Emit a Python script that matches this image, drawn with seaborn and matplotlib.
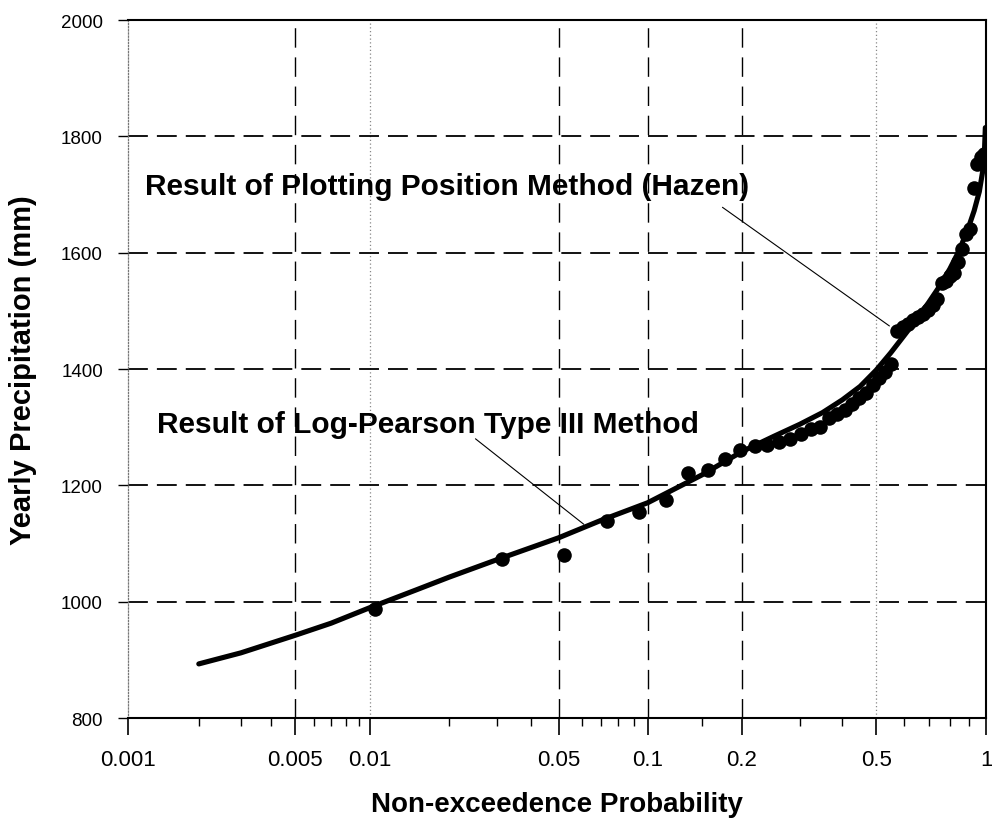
import numpy as np
import pandas as pd
import matplotlib
matplotlib.use("Agg")
import matplotlib.pyplot as plt
from matplotlib import font_manager
import seaborn as sns

# ---------------- data ----------------
prob = [0.0104, 0.0313, 0.0521, 0.0729, 0.0938, 0.1146, 0.1354, 0.1563,
        0.1771, 0.1979, 0.2188, 0.2396, 0.2604, 0.2813, 0.3021, 0.3229,
        0.3438, 0.3646, 0.3854, 0.4063, 0.4271, 0.4479, 0.4688, 0.4896,
        0.5104, 0.5313, 0.5521, 0.5729, 0.5938, 0.6146, 0.6354, 0.6563,
        0.6771, 0.6979, 0.7188, 0.7396, 0.7604, 0.7813, 0.8021, 0.8229,
        0.8438, 0.8646, 0.8854, 0.9063, 0.9271, 0.9479, 0.9688, 0.9896]
precip = [987, 1073, 1080, 1139, 1154, 1175, 1222, 1226,
          1245, 1260, 1268, 1270, 1274, 1280, 1288, 1297,
          1300, 1316, 1323, 1330, 1340, 1350, 1358, 1372,
          1385, 1395, 1408, 1465, 1472, 1478, 1484, 1490,
          1495, 1502, 1510, 1520, 1548, 1552, 1560, 1565,
          1584, 1606, 1632, 1640, 1712, 1752, 1765, 1770]

curve_p = [0.002, 0.003, 0.005, 0.007, 0.01, 0.015, 0.02, 0.03, 0.05,
           0.07, 0.1, 0.15, 0.2, 0.25, 0.3, 0.35, 0.4, 0.45, 0.5, 0.55,
           0.6, 0.65, 0.7, 0.75, 0.8, 0.85, 0.9, 0.93, 0.96, 0.98, 0.99,
           0.996]
curve_y = [893, 912, 942, 963, 990, 1020, 1042, 1072, 1110,
           1140, 1170, 1218, 1258, 1284, 1305, 1325, 1347, 1370, 1398, 1428,
           1458, 1486, 1514, 1542, 1572, 1605, 1645, 1672, 1705, 1740, 1770,
           1815]

major_ticks = [0.001, 0.005, 0.01, 0.05, 0.1, 0.2, 0.5, 1]
major_labels = ["0.001", "0.005", "0.01", "0.05", "0.1", "0.2", "0.5", "1"]
minor_ticks = [0.002, 0.003, 0.004, 0.006, 0.007, 0.008, 0.009,
               0.02, 0.03, 0.04, 0.06, 0.07, 0.08, 0.09, 0.15,
               0.3, 0.4, 0.6, 0.7, 0.8, 0.9]
y_ticks = [800, 1000, 1200, 1400, 1600, 1800, 2000]

txt_hazen = "Result of Plotting Position Method (Hazen)"
txt_lp3 = "Result of Log-Pearson Type III Method"

# ---------------- style ----------------
sns.set_theme(style="white")
plt.rcParams["font.family"] = ["Liberation Sans", "DejaVu Sans"]
plt.rcParams["text.color"] = "black"
plt.rcParams["axes.labelcolor"] = "black"
plt.rcParams["xtick.color"] = "black"
plt.rcParams["ytick.color"] = "black"


def has_font(name):
    try:
        font_manager.findfont(font_manager.FontProperties(family=name),
                              fallback_to_default=False)
        return True
    except Exception:
        return False


narrow = has_font("Liberation Sans Narrow")
xtick_family = ["Liberation Sans Narrow", "Liberation Sans"] if narrow else ["Liberation Sans"]
xtick_size = 18 if narrow else 16

# probability-paper style x scale (slightly stretched log)
_B, _C = 0.0193, 0.01858


def fwd(p):
    p = np.clip(np.asarray(p, dtype=float), 1e-30, None)
    t = np.log10(p) + 3.0
    return t + _B * t ** 2 + _C * t ** 3


_tg = np.linspace(-27, 4, 400001)
_fg = _tg + _B * _tg ** 2 + _C * _tg ** 3


def inv(v):
    v = np.asarray(v, dtype=float)
    return 10 ** (np.interp(v, _fg, _tg) - 3.0)


fig = plt.figure(figsize=(9.92, 8.20), dpi=100)
ax = fig.add_axes([128 / 992, 1 - 719 / 820, (986 - 128) / 992, (719 - 21) / 820])
ax.set_xscale("function", functions=(fwd, inv))

df_pts = pd.DataFrame({"p": prob, "y": precip})
df_crv = pd.DataFrame({"p": curve_p, "y": curve_y})

sns.lineplot(data=df_crv, x="p", y="y", sort=False, color="black",
             linewidth=3.7, ax=ax, zorder=3)
sns.scatterplot(data=df_pts, x="p", y="y", color="black", s=110,
                edgecolor="black", linewidth=0, ax=ax, zorder=4)

ax.set_xlim(0.001, 1)
ax.set_ylim(800, 2000)

ax.set_xticks(major_ticks)
ax.set_xticklabels(major_labels, family=xtick_family, fontsize=xtick_size,
                   color="black")
ax.set_xticks(minor_ticks, minor=True)
ax.set_yticks(y_ticks)
ax.set_yticklabels([str(v) for v in y_ticks], fontsize=13.5, color="black")

ax.tick_params(axis="x", which="major", direction="out", length=12,
               width=1.2, pad=10, colors="black", bottom=True)
ax.tick_params(axis="x", which="minor", direction="out", length=6,
               width=1.0, bottom=True, colors="black")
ax.tick_params(axis="y", which="major", direction="out", length=7,
               width=1.0, pad=11, left=True, colors="black")

# grid
ax.yaxis.grid(True, color="black", linewidth=1.3, linestyle=(0, (11, 5)))
ax.xaxis.grid(True, which="major", color="black", linewidth=1.0,
              linestyle=(0, (14, 7)))
for tk, val in zip(ax.xaxis.get_major_ticks(), major_ticks):
    gl = tk.gridline
    if val in (0.001, 1):
        gl.set_visible(False)
    elif val in (0.01, 0.5):
        gl.set_linestyle((0, (1, 2)))
        gl.set_color("#888888")
        gl.set_linewidth(0.9)
ax.set_axisbelow(True)

for side in ("top", "right", "bottom"):
    ax.spines[side].set_color("black")
    ax.spines[side].set_linewidth(1.5)
ax.spines["left"].set_color("#777777")
ax.spines["left"].set_linewidth(0.9)
ax.spines["left"].set_linestyle((0, (1, 1.5)))

ax.set_xlabel("Non-exceedence Probability", fontsize=20, fontweight="bold",
              va="center", color="black")
ax.set_ylabel("Yearly Precipitation (mm)", fontsize=21, fontweight="bold",
              va="center", color="black")
ax.xaxis.set_label_coords(0.5, (719 - 805) / 698)
ax.yaxis.set_label_coords((23 - 128) / 858, 0.5)

# annotations
ax.text(0.00118, 1701, txt_hazen, fontsize=21.5, fontweight="bold",
        ha="left", va="baseline", zorder=6, color="black")
ax.text(0.00133, 1292, txt_lp3, fontsize=21.5, fontweight="bold",
        ha="left", va="baseline", zorder=6, color="black")
ax.annotate("", xy=(0.545, 1474), xytext=(0.174, 1678),
            arrowprops=dict(arrowstyle="-", color="black", lw=0.8,
                            shrinkA=0, shrinkB=0), zorder=5)
ax.annotate("", xy=(0.061, 1133), xytext=(0.0251, 1280),
            arrowprops=dict(arrowstyle="-", color="black", lw=0.8,
                            shrinkA=0, shrinkB=0), zorder=5)

fig.savefig("out.png", dpi=100, facecolor="white")
